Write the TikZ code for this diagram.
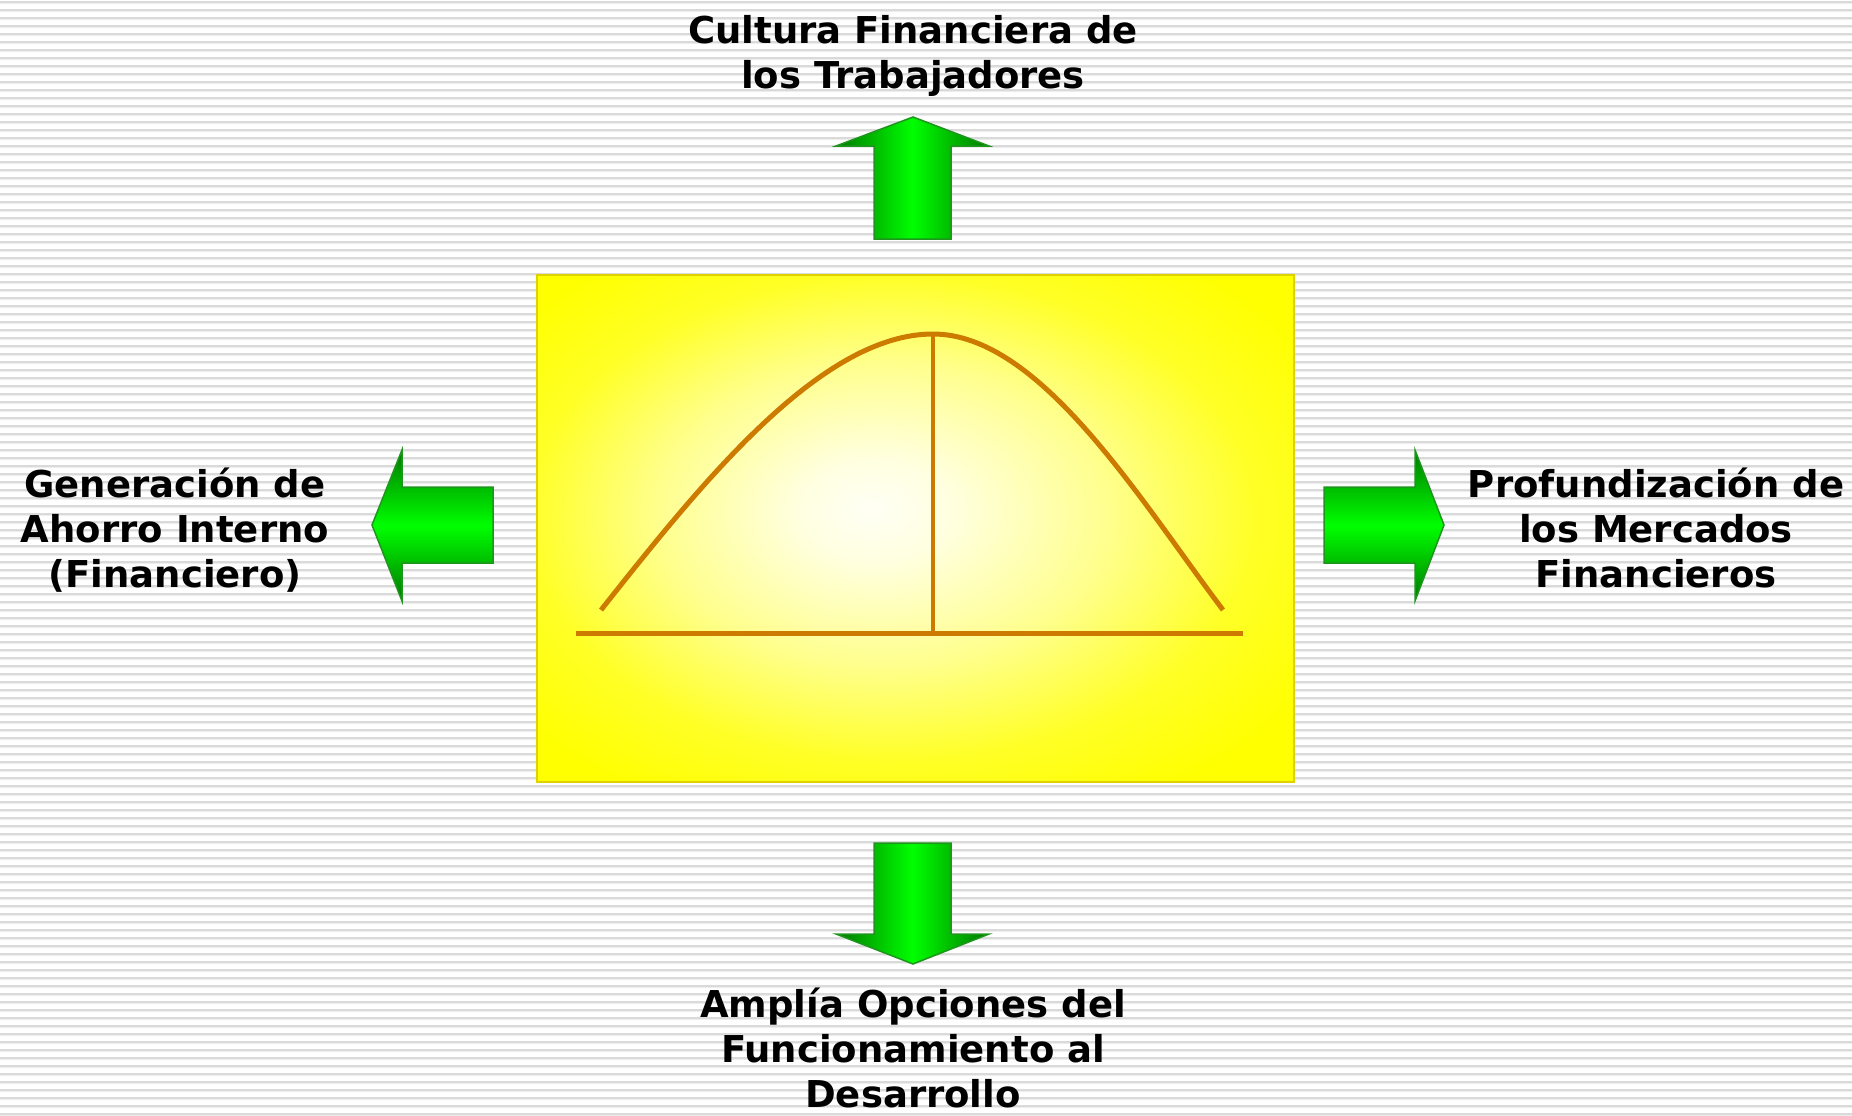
\documentclass[tikz,border=0pt]{standalone}
\usepackage{fontspec}
\setmainfont{DejaVu Sans}
\definecolor{raya}{RGB}{218,218,218}
\definecolor{rayaclara}{RGB}{237,237,237}
\definecolor{verdeosc}{RGB}{0,120,0}
\definecolor{verdeclaro}{RGB}{0,255,0}
\definecolor{bordeverde}{RGB}{30,150,30}
\definecolor{amarillo}{RGB}{255,255,0}
\definecolor{bordecaja}{RGB}{222,210,0}
\definecolor{naranja}{RGB}{204,122,0}
\pgfdeclareradialshading{brillo}{\pgfpoint{-3bp}{2bp}}{color(0bp)=(amarillo!4!white); color(5bp)=(amarillo!12!white); color(15bp)=(amarillo!45!white); color(24bp)=(amarillo!85!white); color(32bp)=(amarillo); color(50bp)=(amarillo)}
\newcommand{\letrero}{\fontsize{37}{45}\selectfont\bfseries}

\begin{document}
\begin{tikzpicture}[x=1pt, y=-1pt,
	lbl/.style={font=\letrero, align=center, inner sep=0pt, anchor=north},
	flechav/.style={draw=bordeverde, line width=1.5pt, left color=verdeosc, right color=verdeosc, middle color=verdeclaro},
	flechah/.style={draw=bordeverde, line width=1.5pt, top color=verdeosc, bottom color=verdeosc, middle color=verdeclaro},
	curva/.style={draw=naranja, line width=5pt}]
			\useasboundingbox (0,0) rectangle (1852,1116);
			\fill[white] (0,0) rectangle (1852,1116);
			\foreach \y in {2,10,...,1114} {
				\draw[raya, line width=1.5pt] (0,\y) -- (1852,\y);
				\draw[rayaclara, line width=1.3pt] (0,\y+1.4) -- (1852,\y+1.4);
			}
			
			\node[draw=bordecaja, line width=1.5pt, shade, shading=brillo, minimum width=757pt, minimum height=507pt, inner sep=0pt] (caja) at (915.5,528.5) {};
			
			\draw[curva] (601,610) .. controls (700,485) and (820,334) .. (933,334) .. controls (1040,334) and (1140,500) .. (1223,610);
			\draw[curva, line width=4pt] (933,334) -- (933,633);
			\draw[curva] (576,633) -- (1243,633);
			
			\path[flechav] (913,117) -- (989,146) -- (951,146) -- (951,239) -- (874,239) -- (874,146) -- (836,146) -- cycle;
			\path[flechav] (874,843) -- (951,843) -- (951,934) -- (989,934) -- (913,964) -- (836,934) -- (874,934) -- cycle;
			\path[flechah] (372,525) -- (402,450) -- (402,487) -- (493,487) -- (493,563) -- (402,563) -- (402,601) -- cycle;
			\path[flechah] (1324,487) -- (1415,487) -- (1415,450) -- (1444,525) -- (1415,601) -- (1415,563) -- (1324,563) -- cycle;
			
			\node[lbl] (cultura) at (913,11.5) {\strut Cultura Financiera de\\los Trabajadores};
			\node[lbl] (ahorro) at (175,465.5) {\strut Generación de\\Ahorro Interno\\(Financiero)};
			\node[lbl] (mercados) at (1656,465.5) {\strut Profundización de\\los Mercados\\Financieros};
			\node[lbl] (opciones) at (913,986) {\strut Amplía Opciones del\\Funcionamiento al\\Desarrollo};
			\end{tikzpicture}
\end{document}
